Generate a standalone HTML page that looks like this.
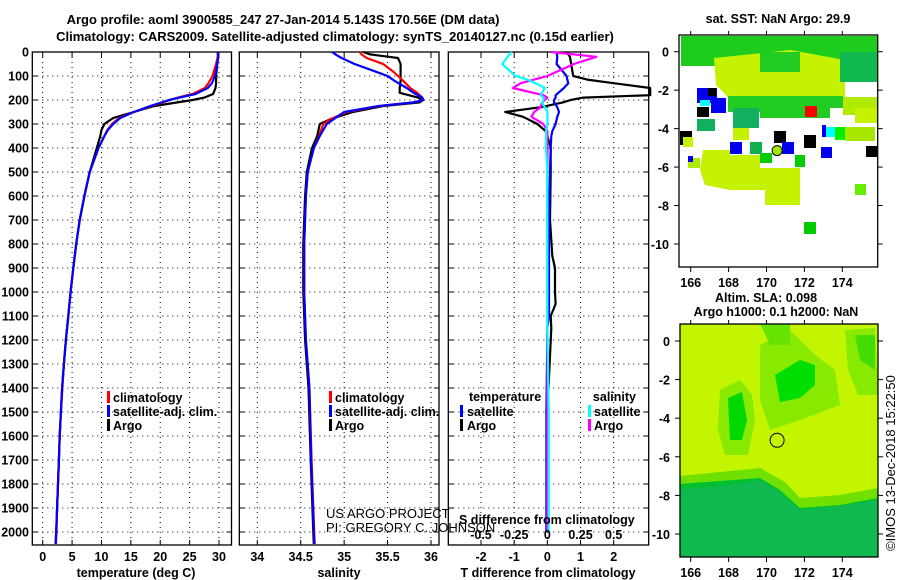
<!DOCTYPE html>
<html><head><meta charset="utf-8"><style>
html,body{margin:0;padding:0;background:#fff;}
svg{display:block;font-family:"Liberation Sans",sans-serif;}
.b{font-weight:bold;font-size:12.5px;}
.n{font-weight:normal;font-size:13px;}
.t{font-weight:bold;font-size:13px;}
</style></head><body>
<svg id="root" width="900" height="580" viewBox="0 0 900 580">
<text class="t" x="283" y="24" text-anchor="middle">Argo profile: aoml 3900585_247 27-Jan-2014 5.143S 170.56E (DM data)</text>
<text class="t" x="335" y="41" text-anchor="middle">Climatology: CARS2009. Satellite-adjusted climatology: synTS_20140127.nc (0.15d earlier)</text>
</svg>
<script>
// ---- data ----
const depthTicks=[0,100,200,300,400,500,600,700,800,900,1000,1100,1200,1300,1400,1500,1600,1700,1800,1900,2000];
const tTicks=[0,5,10,15,20,25,30];
const sTicks=[34,34.5,35,35.5,36];
const dTTicks=[-2,-1,0,1,2];
const dSTicks=[-0.5,-0.25,0,0.25,0.5];
const dSTickLabels=["-0.5","-0.25","0","0.25","0.5"];
const tDepth=[0,20,50,100,130,150,175,190,200,225,250,275,300,325,350,400,500,600,700,800,900,1000,1100,1200,1300,1400,1500,1600,1700,1800,1900,2000,2050];
const tArgo=[29.8,29.8,29.7,29.5,29.5,29.4,29.0,27.5,25.5,19.0,15.5,12.0,10.5,10.0,9.8,9.2,8.0,7.1,6.3,5.7,5.2,4.75,4.35,3.95,3.6,3.3,3.1,2.9,2.75,2.6,2.45,2.3,2.2];
const tClim=[29.9,29.8,29.5,28.9,28.2,27.6,25.5,23.0,21.7,18.5,15.5,13.0,11.8,11.0,10.5,9.5,8.0,7.1,6.3,5.7,5.2,4.75,4.35,3.95,3.6,3.35,3.1,2.9,2.75,2.6,2.45,2.35,2.25];
const tSat=[29.9,29.9,29.7,29.3,28.8,28.1,26.0,23.3,21.5,18.3,15.5,13.2,12.0,11.1,10.5,9.5,8.0,7.1,6.3,5.7,5.2,4.75,4.35,3.95,3.6,3.3,3.1,2.9,2.75,2.6,2.45,2.3,2.2];
const sDepth=[0,10,25,50,80,100,120,150,170,190,200,210,225,250,280,300,350,400,500,600,800,1000,1200,1400,1700,2000,2050];
const sArgo=[35.22,35.30,35.62,35.65,35.65,35.65,35.65,35.64,35.64,35.85,35.91,35.87,35.45,35.10,34.84,34.72,34.69,34.63,34.57,34.55,34.53,34.53,34.55,34.59,34.615,34.645,34.65];
const sClim=[35.18,35.20,35.26,35.45,35.56,35.62,35.68,35.76,35.84,35.90,35.91,35.80,35.41,35.03,34.84,34.76,34.71,34.65,34.58,34.56,34.54,34.54,34.56,34.60,34.625,34.655,34.66];
const sSat=[34.86,34.90,34.97,35.12,35.35,35.50,35.58,35.72,35.80,35.90,35.91,35.80,35.40,35.00,34.88,34.80,34.72,34.65,34.58,34.56,34.54,34.54,34.56,34.60,34.62,34.65,34.66];
const dDepth=[0,20,50,100,115,130,150,180,190,200,210,230,250,270,300,330,350,400,500,700,850,900,1000,1050,1100,1150,1500,2000];
const dArgoT=[0.58,0.68,0.72,0.78,1.2,2.0,3.1,3.1,1.08,0.7,0.47,-0.2,-1.27,-0.73,-0.3,-0.05,0.0,0.1,0.1,0.08,0.15,0.23,0.23,0.25,0.1,0.12,0.0,0.0];
const dSatT=[0.28,0.3,0.28,0.58,0.6,0.63,0.5,0.25,0.25,0.2,0.2,0.3,0.35,0.3,0.25,0.15,0.12,0.1,0.08,0.05,0.05,0.05,0.05,0.05,0.05,0.0,-0.03,-0.03];
const dArgoS=[0.03,0.37,0.2,0.0,-0.1,-0.2,-0.26,-0.03,0,-0.02,-0.04,-0.05,-0.1,-0.12,-0.03,0.0,0,0,0,0,0,0,0,0,0,0,0,0];
const dSatS=[-0.27,-0.3,-0.34,-0.24,-0.15,-0.09,-0.02,-0.05,-0.03,-0.03,-0.04,-0.02,0,0,0,-0.01,-0.01,-0.01,0,0,0,0,0,0,0,0,0.01,0.01];
const lonTicks=[166,168,170,172,174];
const latTicks=[0,-2,-4,-6,-8,-10];

const NS="http://www.w3.org/2000/svg";
const root=document.getElementById('root');
function mk(tag,a,p){const e=document.createElementNS(NS,tag);for(const k in a)e.setAttribute(k,a[k]);(p||root).appendChild(e);return e;}
function lin(d0,d1,r0,r1){return v=>r0+(v-d0)/(d1-d0)*(r1-r0);}
const Y=lin(0,2000,52,532);
const TOP=52,BOT=545;

function panel(name,x0,x1,xs,ticks,labels,showDepth){
  const g=mk('g',{});
  
  
  ticks.forEach((v,i)=>{const x=xs(v);
    const l=mk('line',{x1:x,x2:x,y1:TOP,y2:BOT,stroke:'#000','stroke-width':1,'stroke-dasharray':'1,4'},g);
    
    
    mk('line',{x1:x,x2:x,y1:BOT,y2:BOT-5,stroke:'#000'},g);
    mk('line',{x1:x,x2:x,y1:TOP,y2:TOP+5,stroke:'#000'},g);
    if(labels){const t=mk('text',{x:x,y:561,'text-anchor':'middle',class:'b'},g);t.textContent=labels[i];
      
      }
  });
  depthTicks.forEach(d=>{const y=Y(d);
    const l=mk('line',{x1:x0,x2:x1,y1:y,y2:y,stroke:'#000','stroke-width':1,'stroke-dasharray':'1,4'},g);
    
    
    mk('line',{x1:x0,x2:x0+5,y1:y,y2:y,stroke:'#000'},g);
    mk('line',{x1:x1,x2:x1-5,y1:y,y2:y,stroke:'#000'},g);
    if(showDepth){const t=mk('text',{x:29,y:y+4.5,'text-anchor':'end',class:'b'},g);t.textContent=d;
      
      }
  });
  const r=mk('rect',{x:x0,y:TOP,width:x1-x0,height:BOT-TOP,fill:'none',stroke:'#000','stroke-width':1.3},g);
  
  
  return g;
}
function series(g,name,depths,vals,xs,color){
  const pts=depths.map((d,i)=>xs(vals[i]).toFixed(1)+','+Y(d).toFixed(1)).join(' ');
  const p=mk('polyline',{points:pts,fill:'none',stroke:color,'stroke-width':2.2,'stroke-linejoin':'round'},g);
  
  
}
function txt(g,name,x,y,s,cls,anchor,extra){const t=mk('text',Object.assign({x:x,y:y,class:cls||'b','text-anchor':anchor||'start'},extra||{}),g);t.textContent=s;
  
  return t;}
function legBar(g,name,x,y,c){const r=mk('rect',{x:x,y:y-10,width:3,height:12,fill:c},g);
  
  }

// temperature panel
const XT=lin(0,30,42.7,219);
const g1=panel('temperature-panel',32.3,231.5,XT,tTicks,tTicks.map(String),true);
series(g1,'argo-temperature-line',tDepth,tArgo,XT,'#000');
series(g1,'climatology-temperature-line',tDepth,tClim,XT,'#f00');
series(g1,'satellite-temperature-line',tDepth,tSat,XT,'#00f');
txt(g1,'x-axis-title-temperature',136,577,'temperature (deg C)','b','middle');
legBar(g1,'legend-climatology-swatch',107,401,'#f00');txt(g1,'legend-climatology',113,402,'climatology');
legBar(g1,'legend-satellite-swatch',107,415,'#00f');txt(g1,'legend-satellite',113,416,'satellite-adj. clim.');
legBar(g1,'legend-argo-swatch',107,429,'#000');txt(g1,'legend-argo',113,430,'Argo');

// salinity panel
const XS=lin(34,36,257.3,431);
const g2=panel('salinity-panel',239.3,439,XS,sTicks,['34','34.5','35','35.5','36'],false);
series(g2,'argo-salinity-line',sDepth,sArgo,XS,'#000');
series(g2,'climatology-salinity-line',sDepth,sClim,XS,'#f00');
series(g2,'satellite-salinity-line',sDepth,sSat,XS,'#00f');
txt(g2,'x-axis-title-salinity',339,577,'salinity','b','middle');
legBar(g2,'legend-climatology-swatch',329,401,'#f00');txt(g2,'legend-climatology',335,402,'climatology');
legBar(g2,'legend-satellite-swatch',329,415,'#00f');txt(g2,'legend-satellite',335,416,'satellite-adj. clim.');
legBar(g2,'legend-argo-swatch',329,429,'#000');txt(g2,'legend-argo',335,430,'Argo');
txt(g2,'credit-project',326,518,'US ARGO PROJECT','n','start');
txt(g2,'credit-pi',326,532,'PI: GREGORY C. JOHNSON','n','start');

// difference panel
const XD=lin(-2,2,481,613.7);
const XDS=lin(-0.5,0.5,481,613.7);
const g3=panel('difference-panel',448.3,648.7,XD,dTTicks,['-2','-1','0','1','2'],false);
series(g3,'argo-temperature-diff-line',dDepth,dArgoT,XD,'#000');
series(g3,'satellite-temperature-diff-line',dDepth,dSatT,XD,'#00f');
series(g3,'argo-salinity-diff-line',dDepth,dArgoS,XDS,'#f0f');
series(g3,'satellite-salinity-diff-line',dDepth,dSatS,XDS,'#0ff');
dSTicks.forEach((v,i)=>{txt(g3,'s-tick-label',XDS(v),539,dSTickLabels[i],'b','middle');});
txt(g3,'s-axis-title',459,524,'S difference from climatology');
txt(g3,'x-axis-title-t-difference',548,577,'T difference from climatology','b','middle');
txt(g3,'legend-temperature-header',469,401,'temperature');
legBar(g3,'legend-t-satellite-swatch',460,415,'#00f');txt(g3,'legend-t-satellite',467,416,'satellite');
legBar(g3,'legend-t-argo-swatch',460,429,'#000');txt(g3,'legend-t-argo',467,430,'Argo');
txt(g3,'legend-salinity-header',636,401,'salinity','b','end');
legBar(g3,'legend-s-satellite-swatch',588,415,'#0ff');txt(g3,'legend-s-satellite',594,416,'satellite');
legBar(g3,'legend-s-argo-swatch',588,429,'#f0f');txt(g3,'legend-s-argo',594,430,'Argo');

// maps
function mapAxes(g,x0,x1,y0,y1,lonX,latY){
  lonTicks.forEach(v=>{const x=lonX(v);mk('line',{x1:x,x2:x,y1:y1,y2:y1+5,stroke:'#000'},g);mk('line',{x1:x,x2:x,y1:y0,y2:y0-4,stroke:'#000'},g);
    txt(g,'lon-tick-label',x,y1+20,String(v),'b','middle',{'font-size':'13px'});});
  latTicks.forEach(v=>{const y=latY(v);mk('line',{x1:x0,x2:x0-5,y1:y,y2:y,stroke:'#000'},g);mk('line',{x1:x1,x2:x1+5,y1:y,y2:y,stroke:'#000'},g);
    txt(g,'lat-tick-label',x0-10,y+5,String(v),'b','end',{'font-size':'13px'});});
  const r=mk('rect',{x:x0,y:y0,width:x1-x0,height:y1-y0,fill:'none',stroke:'#000','stroke-width':1.3},g);
  
  
}
// SST map
const gm=mk('g',{});


const sstShapes=[
 ['rect',{x:681,y:36,width:196,height:30,fill:'#1dcc1d'}],
 ['polygon',{points:'714,58 790,50 845,60 845,98 820,112 770,108 735,104 716,85',fill:'#c4f200'}],
 ['rect',{x:840,y:52,width:37,height:30,fill:'#10b850'}],
 ['rect',{x:760,y:52,width:40,height:20,fill:'#22cc22'}],
 ['polygon',{points:'728,96 843,96 843,108 830,108 830,118 760,118 760,112 728,112',fill:'#22cc22'}],
 ['rect',{x:733,y:108,width:26,height:20,fill:'#10b060'}],
 ['rect',{x:843,y:97,width:34,height:18,fill:'#b0ea00'}],
 ['rect',{x:855,y:108,width:22,height:15,fill:'#c4f200'}],
 ['rect',{x:680,y:131,width:12,height:14,fill:'#000'}],
 ['rect',{x:697,y:88,width:20,height:15,fill:'#0000ee'}],
 ['rect',{x:711,y:98,width:15,height:15,fill:'#0000ee'}],
 ['rect',{x:700,y:100,width:10,height:6,fill:'#00ffff'}],
 ['rect',{x:697,y:107,width:12,height:10,fill:'#000'}],
 ['rect',{x:708,y:88,width:8,height:8,fill:'#000'}],
 ['rect',{x:805,y:106,width:12,height:11,fill:'#f00'}],
 ['rect',{x:774,y:131,width:12,height:12,fill:'#000'}],
 ['rect',{x:804,y:135,width:12,height:13,fill:'#000'}],
 ['rect',{x:835,y:127,width:12,height:13,fill:'#00ee00'}],
 ['rect',{x:825,y:127,width:10,height:10,fill:'#00ffff'}],
 ['rect',{x:822,y:125,width:4,height:12,fill:'#0000ee'}],
 ['rect',{x:845,y:127,width:30,height:14,fill:'#a8e800'}],
 ['rect',{x:866,y:146,width:11,height:11,fill:'#000'}],
 ['rect',{x:821,y:147,width:11,height:11,fill:'#0000ee'}],
 ['rect',{x:730,y:142,width:12,height:12,fill:'#0000ee'}],
 ['rect',{x:782,y:142,width:12,height:12,fill:'#0000ee'}],
 ['rect',{x:750,y:142,width:12,height:12,fill:'#10b050'}],
 ['rect',{x:697,y:119,width:18,height:12,fill:'#10b060'}],
 ['rect',{x:733,y:128,width:16,height:12,fill:'#c4f200'}],
 ['polygon',{points:'703,150 730,150 730,155 760,155 760,168 800,168 800,205 765,205 765,190 730,190 705,185 700,170',fill:'#c4f200'}],
 ['rect',{x:760,y:153,width:12,height:10,fill:'#00cc00'}],
 ['rect',{x:795,y:155,width:10,height:12,fill:'#00cc00'}],
 ['rect',{x:683,y:137,width:10,height:10,fill:'#c4f200'}],
 ['rect',{x:688,y:158,width:12,height:10,fill:'#b0ea00'}],
 ['rect',{x:804,y:222,width:12,height:12,fill:'#00cc00'}],
 ['rect',{x:855,y:184,width:11,height:11,fill:'#66ee00'}],
 ['rect',{x:688,y:156,width:5,height:6,fill:'#0000ee'}]
];
sstShapes.forEach(s=>{const e=mk(s[0],s[1],gm);
  
  });
const LON1=lin(166,174,690.7,842.3);
const LAT1=lin(0,-10,51.7,244);
mk('circle',{cx:LON1(170.56),cy:LAT1(-5.143),r:5,fill:'#a0e800',stroke:'#000','stroke-width':1},gm);
mapAxes(gm,679,877.7,35,267,LON1,LAT1);
txt(gm,'sst-map-title',778,23,'sat. SST: NaN Argo: 29.9','b','middle');

// SLA map
const gs=mk('g',{});


const slaShapes=[
 ['rect',{x:680,y:324,width:198,height:233,fill:'#c4f500'}],
 ['polygon',{points:'680,480 720,478 760,472 780,485 800,505 840,500 878,490 878,557 680,557',fill:'#00c030'}],
 ['polygon',{points:'680,490 720,486 760,480 780,493 800,510 840,506 878,500 878,557 680,557',fill:'#10b850'}],
 ['polygon',{points:'680,476 760,468 785,482 800,498 840,495 878,488 878,498 840,505 800,508 780,490 760,478 680,484',fill:'#70e000'}],
 ['polygon',{points:'720,390 740,380 752,395 755,420 748,455 725,455 718,430',fill:'#88ea00'}],
 ['polygon',{points:'728,398 742,392 747,420 742,440 730,440',fill:'#00d800'}],
 ['polygon',{points:'760,345 790,330 815,355 835,370 840,405 800,420 770,430 760,400',fill:'#88ea00'}],
 ['polygon',{points:'775,375 800,360 815,365 815,385 800,398 780,402',fill:'#00dd00'}],
 ['polygon',{points:'760,324 790,324 790,345 770,345',fill:'#66e400'}],
 ['polygon',{points:'845,330 875,328 878,395 858,395 848,370',fill:'#88ea00'}],
 ['polygon',{points:'855,335 875,335 875,370 860,360',fill:'#44dd00'}]
];
slaShapes.forEach(s=>{const e=mk(s[0],s[1],gs);
  
  });
const LON2=lin(166,174,690.7,842.3);
const LAT2=lin(0,-10,341,534);
mk('circle',{cx:LON2(170.56),cy:LAT2(-5.143),r:7,fill:'none',stroke:'#000','stroke-width':1},gs);
mapAxes(gs,680,878,324,557,LON2,LAT2);
txt(gs,'sla-map-title-1',766,302,'Altim. SLA: 0.098','b','middle');
txt(gs,'sla-map-title-2',776,316,'Argo h1000: 0.1 h2000: NaN','b','middle');
txt(gs,'imos-timestamp',895,463,'©IMOS 13-Dec-2018 15:22:50','n','middle',{transform:'rotate(-90 895 463)'});
</script>
</body></html>
